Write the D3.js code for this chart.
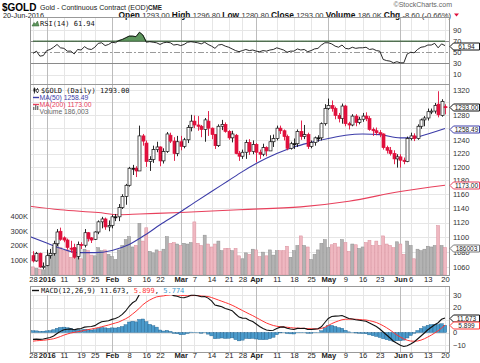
<!DOCTYPE html>
<html>
<head>
<meta charset="utf-8">
<title>$GOLD daily</title>
<script src="https://d3js.org/d3.v7.min.js"></script>
<style>
    body { margin: 0; background: #fff; }
    svg text { font-family: "Liberation Sans", Arial, sans-serif; }
    .mono { font-family: "DejaVu Sans Mono", "Liberation Mono", monospace; }
    .axis path { display: none; }
    .axis text { font-size: 7.5px; fill: #333; font-family: "Liberation Sans", Arial, sans-serif; }
</style>
</head>
<body>
<svg id="chart" width="480" height="363"></svg>
<script>
// x axis: trading-day index of each label, and the label text
const tickDays   = [0, 4, 9, 14, 18, 23, 28, 33, 37, 43, 47, 52, 57, 61, 65, 71, 76, 81, 86, 91, 96, 101, 107, 110, 115, 120];
const tickLabels = ["28", "2016", "11", "19", "25", "Feb", "8", "16", "22", "Mar", "7", "14", "21", "28", "Apr", "11", "18", "25", "May", "9", "16", "23", "Jun", "6", "13", "20"];
const monthLabels = ["2016", "Feb", "Mar", "Apr", "May", "Jun"];

// daily OHLC, 28-Dec-2015 .. 20-Jun-2016
const opens = [1075,1068,1078,1060,1062,1075,1078,1091,1108,1099, 1096,1085,1086,1074,1090,1089,1106,1099,1097,1107,
               1121,1125,1114,1116,1128,1128,1141,1157,1173,1198, 1198,1194,1247,1236,1208,1211,1226,1230,1209,1223,
               1248,1239,1220,1238,1231,1241,1260,1270,1264,1262, 1257,1270,1259,1249,1232,1262,1265,1254,1244,1248,
               1220,1216,1222,1237,1223,1234,1222,1219,1229,1224, 1238,1243,1259,1255,1246,1228,1235,1235,1254,1246,
               1249,1231,1237,1244,1244,1266,1290,1295,1290,1279, 1274,1294,1266,1264,1278,1268,1273,1278,1274,1257,
               1255,1252,1250,1229,1225,1220,1212,1215,1210,1208, 1243,1247,1243,1262,1272,1275,1285,1286,1297,1279,
               1293];
const highs = [1081,1080,1079,1066,1083,1084,1095,1111,1113,1101, 1098,1095,1091,1094,1093,1111,1107,1100,1108,1123,
               1128,1127,1123,1131,1132,1146,1160,1175,1200,1203, 1201,1263,1250,1240,1216,1232,1238,1231,1228,1253,
               1252,1245,1247,1247,1244,1264,1280,1279,1278,1264, 1275,1286,1260,1250,1265,1272,1268,1256,1255,1250,
               1224,1226,1241,1242,1240,1236,1226,1235,1231,1248, 1249,1263,1263,1257,1249,1238,1243,1257,1271,1264,
               1252,1240,1246,1248,1268,1297,1306,1303,1293,1283, 1298,1296,1269,1281,1281,1277,1283,1284,1278,1260,
               1260,1256,1251,1232,1230,1225,1219,1219,1214,1246, 1252,1251,1265,1274,1278,1290,1290,1299,1318,1305,
               1296.8];
const lows  = [1066,1067,1059,1057,1061,1071,1075,1088,1095,1093, 1083,1079,1071,1070,1084,1086,1094,1092,1096,1104,
               1112,1110,1108,1112,1122,1122,1139,1145,1171,1188, 1185,1194,1232,1200,1194,1206,1222,1201,1205,1221,
               1236,1209,1216,1225,1228,1236,1254,1259,1255,1245, 1238,1247,1242,1227,1230,1256,1252,1241,1237,1219,
               1209,1212,1212,1218,1219,1207,1212,1216,1216,1224, 1230,1240,1250,1240,1225,1226,1227,1230,1241,1242,
               1227,1228,1232,1238,1240,1263,1288,1285,1273,1268, 1266,1262,1257,1262,1262,1265,1269,1270,1255,1247,
               1248,1245,1226,1220,1217,1204,1199,1199,1204,1207, 1240,1239,1241,1258,1262,1271,1281,1282,1276,1277,
               1280.8];
const closes = [1068,1078,1060,1061,1075,1078,1091,1107,1097,1096, 1086,1085,1073,1090,1089,1106,1098,1096,1107,1121,
               1125,1114,1116,1128,1128,1141,1157,1173,1198,1198, 1194,1247,1239,1208,1211,1226,1230,1209,1223,1250,
               1239,1220,1238,1231,1241,1260,1270,1264,1262,1257, 1272,1259,1249,1232,1262,1265,1254,1244,1250,1220,
               1216,1222,1237,1223,1234,1222,1219,1229,1224,1238, 1243,1259,1255,1246,1228,1235,1235,1254,1246,1249,
               1231,1237,1244,1244,1266,1290,1295,1290,1279,1274, 1294,1266,1264,1278,1268,1273,1278,1274,1257,1255,
               1252,1250,1229,1225,1220,1212,1215,1210,1208,1243, 1247,1243,1262,1272,1275,1285,1286,1295,1280,1301.6,
               1293];
const prevCloseBefore = 1076;

// volume, thousands of contracts
const volumes = [55,45,40,35,125,135,190,215,185,165, 170,120,175,180,110,175,165,135,130,185,
                 165,170,140,125,105,170,200,240,260,190, 200,350,230,320,160,150,170,160,175,260,
                 215,220,210,200,215,210,220,360,215,200, 270,210,190,210,230,165,180,180,165,180,
                 130,110,150,140,175,170,125,155,130,170, 135,165,165,165,195,120,165,200,265,200,
                 190,105,140,170,215,240,185,205,215,190, 240,220,160,210,205,180,190,220,235,200,
                 230,200,265,210,200,185,225,210,140,230, 200,110,175,165,175,195,190,200,335,200,
                 186];

// moving averages at a few days each
const ma50Days = [-1, 4, 8, 13, 18, 23, 28, 33, 37, 42, 47, 52, 57, 61, 65, 71, 76, 81, 86, 91, 96, 101, 107, 110, 115, 120];
const ma50Vals = [1101, 1092, 1085, 1079, 1079, 1082, 1090, 1104, 1117, 1132, 1148, 1164, 1180, 1193, 1205, 1220, 1230, 1237, 1243, 1248, 1250, 1249, 1244, 1244, 1250, 1258.49];
const ma200Days = [-1, 8, 19, 25, 31, 43, 60, 78, 92, 107, 120];
const ma200Vals = [1143, 1138, 1134, 1131, 1132, 1134, 1138, 1142, 1150, 1164, 1173];

// RSI(14)
const rsi = [48,52,43,44,53,55,59,64,58,57, 52,52,47,55,54,60,56,55,59,66,
             67,62,64,68,67,71,73,76,79,79, 78,86,81,68,69,68,67,64,67,68,
             67,63,64,62,64,68,69,68,67,65, 68,64,61,57,63,64,61,59,56,53,
             51,53,55,53,54,52,51,53,52,54, 55,58,56,54,50,52,52,56,54,55,
             51,53,56,57,63,67,67,65,61,59, 63,57,56,59,57,58,58,59,55,56,
             53,52,37,35,34,31,33,31,31,47, 50,49,55,59,60,63,63,66,58,65,
             61.94];

// MACD(12,26,9)
const macd = [-5.5,-5.3,-5.5,-5.2,-4.6,-4.0,-2.8,-0.8,0.9,2.2, 2.6,2.9,2.2,2.9,3.2,4.3,4.6,4.8,5.5,7.2,
              8.6,9.0,9.4,10.5,11.2,12.5,14.5,17.2,21.0,23.8, 25.5,30.5,33.5,33.0,32.5,32.8,32.8,31.0,30.5,31.5,
              31.0,29.5,29.0,28.0,27.8,28.6,29.8,29.8,29.4,28.6, 28.8,27.5,25.3,22.0,21.3,20.6,19.2,18.4,17.5,14.8,
              12.3,11.5,11.4,9.8,8.8,6.8,4.8,3.2,2.0,1.6, 1.8,3.2,4.3,4.5,3.4,2.8,2.4,3.3,3.2,3.4,
              2.5,2.4,2.7,3.0,4.6,8.0,11.2,12.8,13.1,13.2, 13.6,12.4,11.2,10.8,10.2,9.8,9.4,9.0,7.6,6.2,
              4.8,2.8,0.4,-2.0,-4.4,-7.0,-8.6,-10.2,-11.2,-10.6, -9.2,-7.6,-5.2,-2.8,-0.4,2.2,4.2,6.2,7.8,10.6,
              11.673];
const signal = [-6.9,-6.6,-6.4,-6.2,-5.9,-5.5,-5.0,-4.2,-3.2,-2.1, -1.2,-0.4,0.1,0.6,1.1,1.7,2.3,2.8,3.3,3.9,
              4.6,5.3,6.0,6.8,7.6,8.4,9.7,11.0,12.6,14.8, 17.0,19.5,22.2,24.3,26.0,27.4,28.5,29.0,29.3,29.8,
              30.1,30.2,30.0,29.8,29.5,29.4,29.5,29.6,29.5,29.2, 29.0,28.8,28.0,27.0,26.0,25.0,24.0,23.0,21.8,20.5,
              19.0,17.6,16.2,14.8,13.5,12.0,10.5,9.0,7.6,6.5, 5.6,5.0,4.6,4.4,4.2,3.9,3.6,3.5,3.4,3.3,
              3.1,3.0,2.9,2.9,3.2,4.2,5.6,7.1,8.3,9.3, 10.2,10.6,10.7,10.7,10.6,10.4,10.2,10.0,9.5,8.8,
              8.0,6.8,5.4,3.8,2.0,0.0,-2.0,-3.6,-5.1,-6.2, -6.8,-7.0,-6.8,-6.1,-5.0,-3.6,-2.1,-0.4,1.4,3.6,
              5.899];
const hist = [1.4,1.3,0.9,1.0,1.3,1.5,2.2,3.4,4.1,4.3, 3.8,3.3,2.1,2.3,2.1,2.6,2.3,2.0,2.2,3.3,
              4.0,3.7,3.4,3.7,3.6,4.1,4.8,6.2,8.4,9.0, 8.5,10.4,10.8,8.7,6.5,5.4,4.3,2.0,1.2,1.7,
              0.9,-0.7,-1.0,-1.8,-1.7,-0.8,0.3,0.2,-0.1,-0.6, -0.2,-1.3,-2.7,-5.0,-4.7,-4.4,-4.8,-4.6,-4.3,-5.7,
              -6.7,-6.1,-4.8,-5.0,-4.7,-5.2,-5.7,-5.8,-5.6,-4.9, -3.8,-1.8,-0.3,0.1,-0.8,-1.1,-1.2,-0.2,-0.2,0.1,
              -0.6,-0.6,-0.2,0.1,1.4,3.8,5.6,5.7,4.8,3.9, 3.4,1.8,0.5,0.1,-0.4,-0.6,-0.8,-1.0,-1.9,-2.6,
              -3.2,-4.0,-5.0,-5.8,-6.4,-7.0,-6.6,-6.6,-6.1,-4.4, -2.4,-0.6,1.6,3.3,4.6,5.8,6.3,6.6,6.4,7.0,
              5.774];

// axis tick values (labels hidden behind value badges are left out)
const rsiTicks = [90, 70, 50, 30, 10];
const priceGrid = [1320, 1300, 1280, 1260, 1240, 1220, 1200, 1180, 1160, 1140, 1120, 1100, 1080, 1060];
const priceTicks = [1320, 1280, 1240, 1220, 1200, 1180, 1160, 1140, 1120, 1100, 1080, 1060];
const volTicks = [400, 300, 200, 100];
const macdGrid = [30, 20, 10, 0, -10];
const macdTicks = [30, 20, 0, -10];

// ---------------------------------------------------------------
const plotL = 30, plotR = 449;
const rsiTop = 17, rsiBot = 84;
const mainTop = 84, mainBot = 275;
const macdTop = 286, macdBot = 352;

const RED = '#e0103c', BLUE = '#3c3ca8', MARED = '#e8405c';

const x = d3.scaleLinear().domain([0, 120]).range([33, 445]);
const yRsi = d3.scaleLinear().domain([10, 90]).range([74.5, 30]);
const yPrice = d3.scaleLog().domain([1060, 1320]).range([267, 90]);
const yVol = d3.scaleLinear().domain([0, 400]).range([mainBot, 216]);
const yMacd = d3.scaleLinear().domain([-10, 30]).range([345, 295]);

const svg = d3.select('#chart');
const defs = svg.append('defs');
function clip(id, y0, y1) {
    defs.append('clipPath').attr('id', id).append('rect')
        .attr('x', plotL).attr('y', y0).attr('width', plotR - plotL).attr('height', y1 - y0);
    return svg.append('g').attr('clip-path', `url(#${id})`);
}
const px = v => Math.round(v) + 0.5;

// grid for one panel
function grid(g, y0, y1, yScale, ticks) {
    g.selectAll('line.h').data(ticks).join('line').attr('class', 'h')
        .attr('x1', plotL).attr('x2', plotR)
        .attr('y1', d => px(yScale(d))).attr('y2', d => px(yScale(d)))
        .attr('stroke', '#e6e6e6');
    g.selectAll('line.v').data(tickDays).join('line').attr('class', 'v')
        .attr('x1', d => px(x(d))).attr('x2', d => px(x(d)))
        .attr('y1', y0).attr('y2', y1)
        .attr('stroke', (d, i) => monthLabels.includes(tickLabels[i]) ? '#bcbcbc' : '#e6e6e6');
}

// ---------------- header ----------------
svg.append('text').attr('x', 2).attr('y', 10.5).attr('font-size', 10).attr('font-weight', 'bold').text('$GOLD');
svg.append('text').attr('x', 40).attr('y', 9.5).attr('font-size', 7.1).attr('fill', '#222')
    .text('Gold - Continuous Contract (EOD)');
svg.append('text').attr('x', 148).attr('y', 9.5).attr('font-size', 6.3).attr('font-weight', 'bold').attr('fill', '#222').text('CME');
svg.append('text').attr('x', 452).attr('y', 7).attr('font-size', 7).attr('fill', '#666')
    .attr('text-anchor', 'end').text('\u00a9StockCharts.com');
svg.append('text').attr('x', 3).attr('y', 17.8).attr('font-size', 7.3).attr('fill', '#222').text('20-Jun-2016');

const quote = [['Open ', true], ['1293.00 ', false], ['High ', true], ['1296.80 ', false], ['Low ', true], ['1280.80 ', false],
               ['Close ', true], ['1293.00 ', false], ['Volume ', true], ['186.0K ', false], ['Chg ', true], ['-8.60 (-0.66%)', false]];
const qt = svg.append('text').attr('x', 451).attr('y', 17.8).attr('text-anchor', 'end');
quote.forEach(([t, b]) => qt.append('tspan').text(t)
    .attr('font-weight', b ? 'bold' : 'normal')
    .attr('font-size', b ? 8.4 : 7.6)
    .attr('fill', b ? '#111' : '#333'));
svg.append('path').attr('d', 'M454,13.5 L459,13.5 L456.5,16.5 Z').attr('fill', RED);

// ---------------- RSI panel ----------------
const gRsiGrid = svg.append('g');
grid(gRsiGrid, rsiTop, rsiBot, yRsi, [90, 10]);
[70, 30].forEach(v => svg.append('line').attr('x1', plotL).attr('x2', plotR)
    .attr('y1', px(yRsi(v))).attr('y2', px(yRsi(v))).attr('stroke', '#8a8a8a'));
svg.append('line').attr('x1', plotL).attr('x2', plotR)
    .attr('y1', px(yRsi(50))).attr('y2', px(yRsi(50)))
    .attr('stroke', '#9a9a9a').attr('stroke-dasharray', '6,2,2,2');

const gRsi = clip('clipRsi', rsiTop, rsiBot);
gRsi.append('path').datum(rsi)
    .attr('d', d3.area().x((d, i) => x(i)).y0(yRsi(70)).y1(d => yRsi(Math.max(d, 70))))
    .attr('fill', '#5e965e').attr('stroke', '#2f5f2f').attr('stroke-width', 0.6);
gRsi.append('path').datum(rsi)
    .attr('d', d3.line().x((d, i) => x(i)).y(d => yRsi(d)))
    .attr('fill', 'none').attr('stroke', '#111').attr('stroke-width', 0.9);

svg.append('rect').attr('x', plotL + 0.5).attr('y', rsiTop + 0.5).attr('width', plotR - plotL).attr('height', rsiBot - rsiTop)
    .attr('fill', 'none').attr('stroke', '#999');
svg.append('path').attr('d', 'M32,26 L34,22.5 L35.5,24 L37.5,21 L39,26 Z').attr('fill', '#5e965e').attr('stroke', '#2f5f2f').attr('stroke-width', 0.5);
svg.append('text').attr('class', 'mono').attr('x', 40).attr('y', 26).attr('font-size', 7).attr('fill', '#111').text('RSI(14) 61.94');

svg.append('g').attr('class', 'axis').attr('transform', `translate(${plotR},0)`)
    .call(d3.axisRight(yRsi).tickValues(rsiTicks).tickSize(0).tickPadding(4));

// ---------------- main panel ----------------
const gMainGrid = svg.append('g');
grid(gMainGrid, mainTop, mainBot, yPrice, priceGrid);

const gMain = clip('clipMain', mainTop, mainBot);
const isDown = i => closes[i] < (i === 0 ? prevCloseBefore : closes[i - 1]);

// volume bars
gMain.selectAll('rect.vol').data(volumes).join('rect').attr('class', 'vol')
    .attr('x', (d, i) => x(i) - 1.5).attr('width', 3)
    .attr('y', d => yVol(d)).attr('height', d => mainBot - yVol(d))
    .attr('fill', (d, i) => isDown(i) ? '#efb8c1' : '#b3b3b3')
    .attr('stroke', (d, i) => isDown(i) ? '#d98e9b' : '#8e8e8e').attr('stroke-width', 0.5);

// moving averages
const maLine = d3.line().curve(d3.curveMonotoneX);
gMain.append('path')
    .attr('d', maLine(ma200Days.map((d, i) => [x(d), yPrice(ma200Vals[i])])))
    .attr('fill', 'none').attr('stroke', MARED).attr('stroke-width', 1.1);
gMain.append('path')
    .attr('d', maLine(ma50Days.map((d, i) => [x(d), yPrice(ma50Vals[i])])))
    .attr('fill', 'none').attr('stroke', BLUE).attr('stroke-width', 1.1);

// candles
const candles = gMain.selectAll('g.candle').data(closes).join('g').attr('class', 'candle');
candles.append('line')
    .attr('x1', (d, i) => px(x(i))).attr('x2', (d, i) => px(x(i)))
    .attr('y1', (d, i) => yPrice(highs[i])).attr('y2', (d, i) => yPrice(lows[i]))
    .attr('stroke', (d, i) => isDown(i) ? RED : '#111').attr('stroke-width', 0.9);
candles.append('rect')
    .attr('x', (d, i) => Math.round(x(i)) - 1).attr('width', 3)
    .attr('y', (d, i) => yPrice(Math.max(opens[i], d)))
    .attr('height', (d, i) => Math.max(1, Math.abs(yPrice(opens[i]) - yPrice(d))))
    .attr('fill', (d, i) => d > opens[i] ? '#fff' : (isDown(i) ? RED : '#111'))
    .attr('stroke', (d, i) => isDown(i) ? RED : '#111').attr('stroke-width', 0.7);

svg.append('rect').attr('x', plotL + 0.5).attr('y', mainTop + 0.5).attr('width', plotR - plotL).attr('height', mainBot - mainTop)
    .attr('fill', 'none').attr('stroke', '#999');

// legend
svg.append('line').attr('x1', 34.5).attr('x2', 34.5).attr('y1', 87.5).attr('y2', 93.5).attr('stroke', '#111').attr('stroke-width', 0.8);
svg.append('rect').attr('x', 33.5).attr('y', 88.5).attr('width', 2).attr('height', 3).attr('fill', '#111');
svg.append('line').attr('x1', 37.5).attr('x2', 37.5).attr('y1', 88).attr('y2', 93).attr('stroke', '#111').attr('stroke-width', 0.8);
svg.append('rect').attr('x', 36.5).attr('y', 89.5).attr('width', 2).attr('height', 2.5).attr('fill', '#fff').attr('stroke', '#111').attr('stroke-width', 0.5);
svg.append('text').attr('class', 'mono').attr('x', 41).attr('y', 93).attr('font-size', 7).attr('fill', '#111').text('$GOLD (Daily) 1293.00');
[['MA(50) 1258.49', BLUE, 100], ['MA(200) 1173.00', MARED, 107]].forEach(([t, c, yy]) => {
    svg.append('line').attr('x1', 33).attr('x2', 39).attr('y1', yy - 2.5).attr('y2', yy - 2.5).attr('stroke', c).attr('stroke-width', 1.4);
    svg.append('text').attr('x', 39.5).attr('y', yy).attr('font-size', 6.8).attr('fill', c).text(t);
});
[0, 1, 2].forEach(k => svg.append('rect').attr('x', 33 + k * 2).attr('y', 110 - [3, 5, 4][k])
    .attr('width', 1.4).attr('height', [3, 5, 4][k]).attr('fill', '#777'));
svg.append('text').attr('x', 39.5).attr('y', 114).attr('font-size', 6.8).attr('fill', '#666').text('Volume 186,003');

svg.append('g').attr('class', 'axis').attr('transform', `translate(${plotR},0)`)
    .call(d3.axisRight(yPrice).tickValues(priceTicks).tickFormat(d3.format('d')).tickSize(0).tickPadding(4));
svg.append('g').attr('class', 'axis').attr('transform', `translate(${plotL},0)`)
    .call(d3.axisLeft(yVol).tickValues(volTicks).tickFormat(d => d + 'K').tickSize(0).tickPadding(2));

// x labels between panels and at the bottom
function xLabels(yPos) {
    const ax = svg.append('g').attr('class', 'axis').attr('transform', `translate(0,${yPos})`)
        .call(d3.axisBottom(x).tickValues(tickDays).tickFormat((d, i) => tickLabels[i]).tickSize(0).tickPadding(0));
    ax.selectAll('text').attr('font-weight', (d, i) => monthLabels.includes(tickLabels[i]) ? 'bold' : 'normal')
        .style('font-size', '7.6px').style('fill', '#222');
}
xLabels(276.5);

// ---------------- MACD panel ----------------
const gMacdGrid = svg.append('g');
grid(gMacdGrid, macdTop, macdBot, yMacd, macdGrid);
const gMacd = clip('clipMacd', macdTop, macdBot);
gMacd.selectAll('rect.h').data(hist).join('rect').attr('class', 'h')
    .attr('x', (d, i) => x(i) - 1.7).attr('width', 3.43)
    .attr('y', d => yMacd(Math.max(0, d))).attr('height', d => Math.abs(yMacd(d) - yMacd(0)))
    .attr('fill', '#4a9acb').attr('stroke', '#1f5f8c').attr('stroke-width', 0.4);
gMacd.append('path').datum(signal)
    .attr('d', d3.line().x((d, i) => x(i)).y(d => yMacd(d)))
    .attr('fill', 'none').attr('stroke', '#ff3535').attr('stroke-width', 1);
gMacd.append('path').datum(macd)
    .attr('d', d3.line().x((d, i) => x(i)).y(d => yMacd(d)))
    .attr('fill', 'none').attr('stroke', '#111').attr('stroke-width', 1.1);

svg.append('rect').attr('x', 31).attr('y', macdTop + 1).attr('width', 157).attr('height', 8).attr('fill', '#fff');
svg.append('rect').attr('x', plotL + 0.5).attr('y', macdTop + 0.5).attr('width', plotR - plotL).attr('height', macdBot - macdTop)
    .attr('fill', 'none').attr('stroke', '#999');
svg.append('line').attr('x1', 32).attr('x2', 39).attr('y1', 290.5).attr('y2', 290.5).attr('stroke', '#111').attr('stroke-width', 1.4);
const mt = svg.append('text').attr('class', 'mono').attr('x', 41).attr('y', 293).attr('font-size', 7);
mt.append('tspan').attr('fill', '#111').text('MACD(12,26,9) 11.673, ');
mt.append('tspan').attr('fill', '#ff3535').text('5.899');
mt.append('tspan').attr('fill', '#111').text(', ');
mt.append('tspan').attr('fill', '#3a9ad0').text('5.774');

svg.append('g').attr('class', 'axis').attr('transform', `translate(${plotR},0)`)
    .call(d3.axisRight(yMacd).tickValues(macdTicks).tickSize(0).tickPadding(4));
xLabels(352.5);

// ---------------- value badges on the right ----------------
function badge(yv, label, stroke, color) {
    const yy = Math.round(yv) + 0.5;
    svg.append('path')
        .attr('d', `M450,${yy} L453.5,${yy - 3.5} H479.5 V${yy + 3.5} H453.5 Z`)
        .attr('fill', '#fff').attr('stroke', stroke).attr('stroke-width', 1);
    svg.append('text').attr('x', 466.5).attr('y', yy + 2.3).attr('text-anchor', 'middle')
        .attr('font-size', 6.5).attr('fill', color).text(label);
}
badge(yRsi(61.94), '61.94', '#111', '#111');
badge(yPrice(1293), '1293.00', '#111', '#111');
badge(yPrice(1258.49), '1258.49', BLUE, '#222');
badge(yPrice(1173), '1173.00', MARED, '#222');
badge(yVol(186.003), '186003', '#777', '#222');
badge(yMacd(11.673), '11.673', '#111', '#111');
badge(yMacd(5.899), '5.899', '#ff3535', '#222');
</script>
</body>
</html>
